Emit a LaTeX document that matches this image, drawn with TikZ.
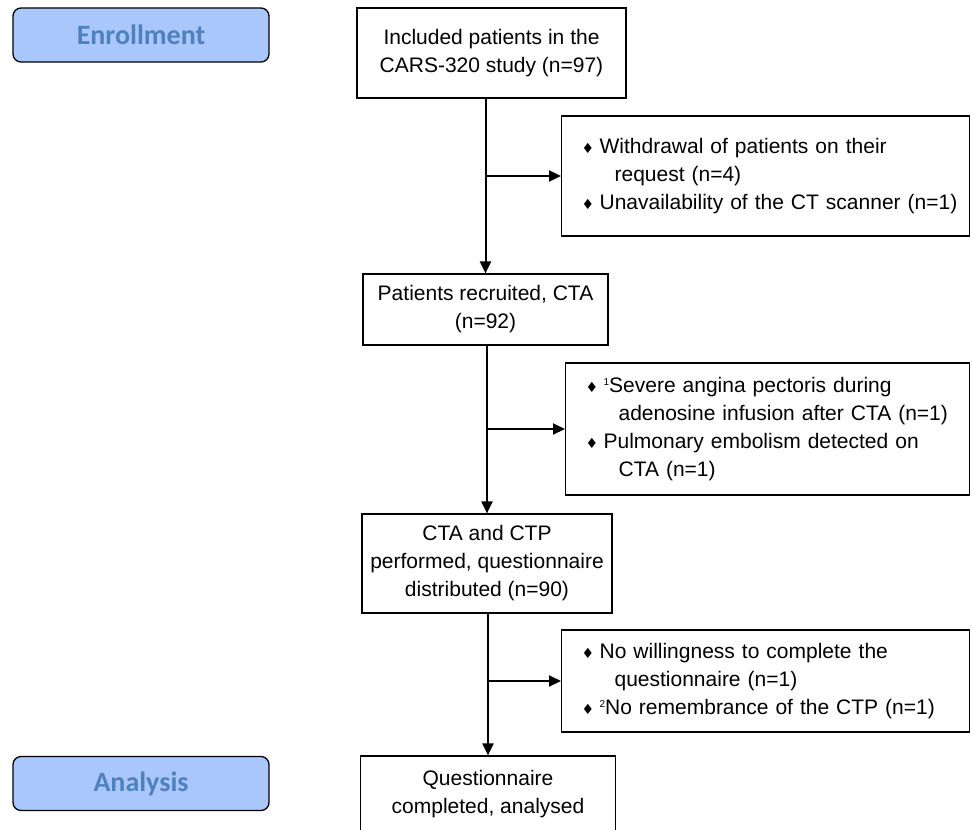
\documentclass[tikz,border=0pt]{standalone}
\usepackage{fontspec}
\setmainfont{Liberation Sans}
\newfontfamily\headfont{Carlito}
\newfontfamily\bulfont{DejaVu Sans}
\usetikzlibrary{arrows.meta}
\definecolor{headfill}{HTML}{A9C7FA}
\definecolor{headtext}{HTML}{4F81BD}
\newcommand{\bul}{\makebox[18pt][l]{\bulfont\fontsize{14}{14}\selectfont ♦}}
\newcommand{\ind}{\hspace*{33pt}}
\newcommand{\sumark}[1]{\raisebox{7pt}{\fontsize{10}{10}\selectfont #1}}

\begin{document}
\begin{tikzpicture}[x=1pt,y=-1pt,
    phase/.style={draw, rounded corners=8pt, fill=headfill, line width=1.3pt,
      minimum width=256pt, minimum height=54pt, text=headtext,
      font=\headfont\bfseries\fontsize{28}{28}\selectfont},
    mainbox/.style={draw, line width=1.2pt, align=center,
      font=\fontsize{21}{28}\selectfont},
    exclbox/.style={draw, line width=1.2pt, align=left, anchor=west,
      text width=368pt, inner xsep=20pt, font=\fontsize{21}{28}\selectfont},
    arr/.style={-{Triangle[length=12pt,width=11pt]}, line width=2pt}]
    \useasboundingbox (0,0) rectangle (972,830);
    \clip (0,0) rectangle (972,830);
    % phases
    \node[phase] (enroll) at (141,35) {Enrollment};
    \node[phase] (analysis) at (141,783.5) {Analysis};
    % main flow
    \node[mainbox, minimum width=269pt, minimum height=90pt] (incl) at (491.5,53) {Included patients in the\\CARS-320 study (n=97)};
    \node[mainbox, minimum width=245pt, minimum height=71pt] (recr) at (485.5,309.5) {Patients recruited, CTA\\(n=92)};
    \node[mainbox, minimum width=250pt, minimum height=99pt] (perf) at (487,563.5) {CTA and CTP\\performed, questionnaire\\distributed (n=90)};
    \node[mainbox, minimum width=255pt, minimum height=76pt] (quest) at (488,794) {Questionnaire\\completed, analysed};
    % exclusions
    \node[exclbox, minimum height=120pt] (excl1) at (561,176) {\bul Withdrawal of patients on their\\\ind request (n=4)\\\mbox{\bul Unavailability of the CT scanner (n=1)}};
    \node[exclbox, minimum height=132pt, text width=364pt] (excl2) at (565,429) {\bul \sumark{1}Severe angina pectoris during\\\ind adenosine infusion after CTA (n=1)\\\bul Pulmonary embolism detected on\\\ind CTA (n=1)};
    \node[exclbox, minimum height=102pt] (excl3) at (561,681) {\bul No willingness to complete the\\\ind questionnaire (n=1)\\\mbox{\bul \sumark{2}No remembrance of the CTP (n=1)}};
    % connectors
    \draw[arr] (incl.south -| recr.north) -- (recr.north);
    \draw[arr] (excl1.west -| recr.north) -- (excl1.west);
    \draw[arr] (recr.south -| perf.north) -- (perf.north);
    \draw[arr] (excl2.west -| perf.north) -- (excl2.west);
    \draw[arr] (perf.south -| quest.north) -- (quest.north);
    \draw[arr] (excl3.west -| quest.north) -- (excl3.west);
\end{tikzpicture}
\end{document}
